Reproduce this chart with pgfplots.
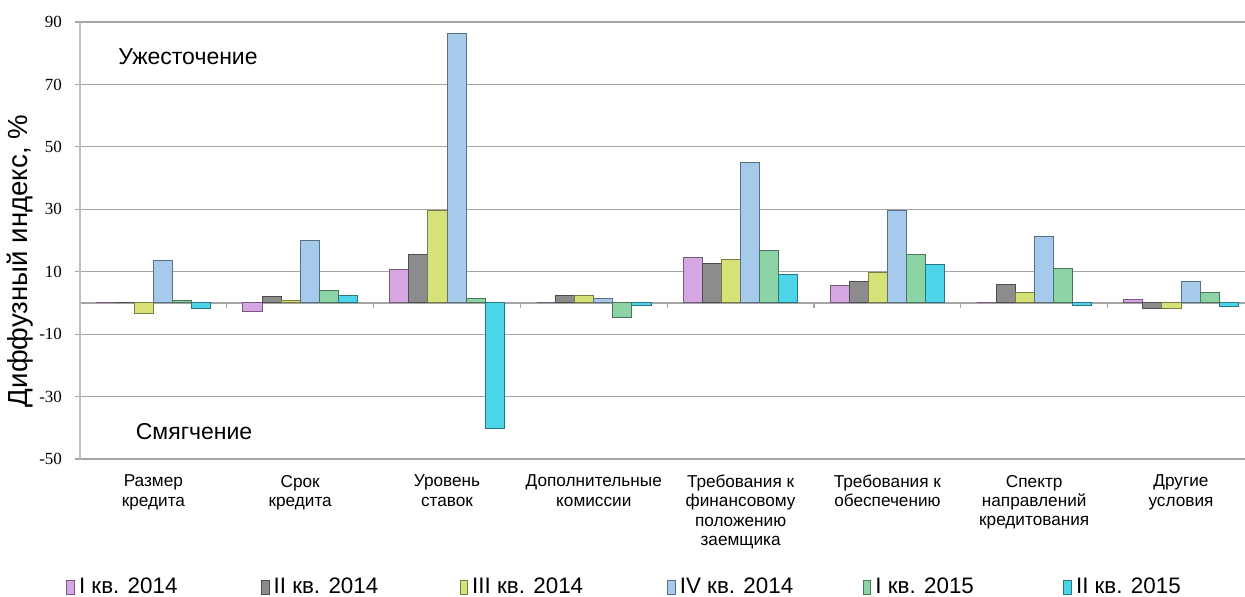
\documentclass[border=0pt]{standalone}
\usepackage{pgfplots}
\pgfplotsset{compat=1.18}
\usepackage{fontspec}
\setmainfont{Liberation Sans}
\newfontfamily\numfont{Liberation Serif}
\definecolor{cA}{RGB}{214,166,226}
\definecolor{cB}{RGB}{140,140,140}
\definecolor{cC}{RGB}{214,226,120}
\definecolor{cD}{RGB}{166,202,236}
\definecolor{cE}{RGB}{140,212,166}
\definecolor{cF}{RGB}{76,212,232}
\definecolor{gridc}{RGB}{165,165,165}
\pgfplotsset{
  bevel/.style={draw=#1!55!black, line width=0.5pt, fill=#1,
    legend image code/.code={\draw[##1] (0pt,-3.5pt) rectangle (3.8pt,3.5pt);}},
}
\begin{document}
\begin{tikzpicture}
\begin{axis}[
  scale only axis,
  width=587.2pt, height=218.5pt,
  xmin=-0.5, xmax=7.5,
  ymin=-50, ymax=90,
  ytick={-50,-30,-10,10,30,50,70,90},
  ymajorgrids, grid style={gridc, line width=0.6pt},
  axis line style={draw=none},
  ytick pos=left, tick align=outside,
  major tick length=2.5pt,
  ytick style={gridc, line width=0.6pt},
  xtick=data,
  xtick style={draw=none},
  xticklabels={{Размер\\кредита},{Срок\\кредита},{Уровень\\ставок},{Дополнительные\\комиссии},{Требования к\\финансовому\\положению\\заемщика},{Требования к\\обеспечению},{Спектр\\направлений\\кредитования},{Другие\\условия}},
  xticklabel style={align=center, font=\fontsize{8.6}{9.6}\selectfont, yshift=-2pt},
  yticklabel style={font=\numfont\fontsize{8.5}{9}\selectfont, xshift=-3pt},
  /pgf/number format/assume math mode=true,
  ylabel={Диффузный индекс, \%},
  ylabel style={font=\fontsize{13.8}{15}\selectfont, at={(axis description cs:-0.0511,0.453)}, anchor=center},
  ybar=0pt, bar width=0.13,
  legend columns=6,
  legend style={draw=none, fill=none, inner sep=0pt, at={(axis description cs:-0.0119,-0.293)}, anchor=west,
    font=\fontsize{11.2}{13}\selectfont, /tikz/every even column/.style={column sep=1pt}},
  clip=false,
]
\draw[gridc, line width=0.6pt] (axis cs:-0.5,0) -- (axis cs:7.5,0);
\pgfplotsinvokeforeach{0.5,1.5,2.5,3.5,4.5,5.5,6.5,7.5}{\draw[gridc, line width=0.6pt] (axis cs:#1,0) -- ([yshift=-2.5pt]axis cs:#1,0);}
\draw[gridc!70!white, line width=0.8pt] (axis cs:-0.5,-50) -- (axis cs:-0.5,90);
\addplot[bevel=cA] coordinates {(0,0.3) (1,-2.8) (2,10.7) (3,0) (4,14.6) (5,5.5) (6,0) (7,1.2)};
\addplot[bevel=cB] coordinates {(0,0) (1,2) (2,15.5) (3,2.4) (4,12.5) (5,7) (6,6) (7,-1.7)};
\addplot[bevel=cC] coordinates {(0,-3.3) (1,0.7) (2,29.7) (3,2.4) (4,13.9) (5,9.6) (6,3.5) (7,-1.8)};
\addplot[bevel=cD] coordinates {(0,13.5) (1,19.9) (2,86.2) (3,1.3) (4,45.1) (5,29.5) (6,21.3) (7,7)};
\addplot[bevel=cE] coordinates {(0,0.8) (1,4) (2,1.4) (3,-4.8) (4,16.7) (5,15.5) (6,11) (7,3.4)};
\addplot[bevel=cF] coordinates {(0,-1.7) (1,2.3) (2,-40.2) (3,-0.8) (4,9.1) (5,12.3) (6,-0.8) (7,-1)};
\legend{\makebox[88pt][l]{I кв. 2014},\makebox[90pt][l]{II кв. 2014},\makebox[94.5pt][l]{III кв. 2014},\makebox[88.5pt][l]{IV кв. 2014},\makebox[91pt][l]{I кв. 2015},\makebox[70pt][l]{II кв. 2015}}
\node[font=\fontsize{11.5}{13}\selectfont] at (axis cs:0.236,78.8) {Ужесточение};
\node[font=\fontsize{11.5}{13}\selectfont] at (axis cs:0.277,-41.3) {Смягчение};
\end{axis}
\pgfresetboundingbox
\useasboundingbox (-40pt,-68.5pt) rectangle (582.5pt,229.5pt);
\end{tikzpicture}
\end{document}
